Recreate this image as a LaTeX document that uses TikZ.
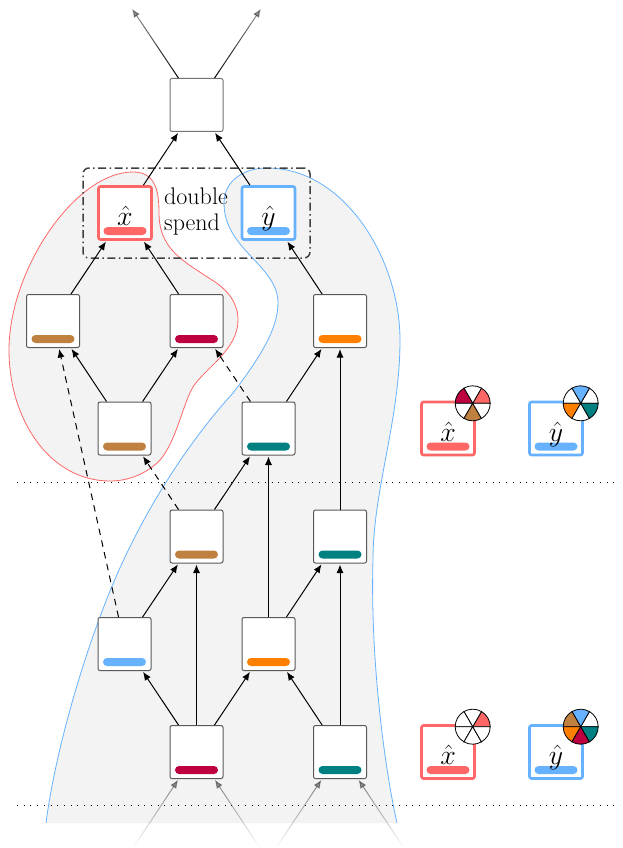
\documentclass[tikz,border=0pt]{standalone}
\usepackage{fontspec}
\usetikzlibrary{arrows.meta,fadings}
\definecolor{cred}{HTML}{FF6666}
\definecolor{cblue}{HTML}{66B2FF}
\definecolor{cteal}{HTML}{008080}
\definecolor{corange}{HTML}{FF8000}
\definecolor{ccrim}{HTML}{BF0040}
\definecolor{cbrown}{HTML}{BF8040}
\definecolor{cfill}{HTML}{F3F3F3}
\tikzfading[name=fadetoptip, top color=transparent!62, bottom color=transparent!0]
\tikzfading[name=fadebottom, top color=transparent!35, bottom color=transparent!100]
\tikzset{
  block/.style={draw=black!65,line width=1pt,rounded corners=2pt,fill=white,minimum size=53pt,inner sep=0pt,outer sep=0.5pt},
  special/.style={line width=2.6pt,rounded corners=2pt,fill=white,minimum size=53pt,inner sep=0pt,outer sep=1.3pt},
  barmark/.style={rounded corners=4pt,minimum width=43pt,minimum height=8pt,inner sep=0pt,draw=none},
  edge/.style={-{Latex[length=8.5pt,width=7pt]},line width=1pt,black,shorten >=1pt},
  dashedge/.style={edge,dash pattern=on 6.5pt off 5.5pt},
  outedge/.style={edge,path fading=fadetoptip},
  inedge/.style={edge,black!75,path fading=fadebottom},
  sep/.style={black,line width=0.9pt,dash pattern=on 1pt off 5.7pt},
  hull/.style={line width=0.8pt},
  mathlabel/.style={anchor=base,inner sep=0pt,font=\Huge,scale=1.12},
  wedge/.style={draw=black,line width=0.8pt}
}
\newcommand{\blockat}[5]{%
  \node[block] (#1) at (#2,#3) {};
  \node[barmark,fill=#4] (#5) at ([yshift=-18pt]#1.center) {};}
\newcommand{\pieat}[8]{% x y then six sector colours from 0 deg counter-clockwise
  \begin{scope}[shift={(#1,#2)},x=1pt,y=1pt]
    \foreach \ang/\col in {0/#3,60/#4,120/#5,180/#6,240/#7,300/#8}{
      \filldraw[wedge,fill=\col] (0,0) -- (\ang:17.5) arc[start angle=\ang,delta angle=60,radius=17.5] -- cycle;
    }
  \end{scope}}
\newcommand{\specialat}[5]{%
  \node[special,draw=#4] (#1) at (#2,#3) {};
  \node[barmark,fill=#4] (#1bar) at ([yshift=-18pt]#1.center) {};
  \node[mathlabel] (#1lab) at ([yshift=-12.5pt]#1.center) {$\hat{#5}$};}
\newcommand{\bluehull}{(46,823)
  .. controls (54,760) and (78,675) .. (100,617)
  .. controls (135,520) and (190,440) .. (233,393)
  .. controls (258,360) and (278,330) .. (278,303)
  .. controls (278,265) and (224,250) .. (224,203)
  .. controls (224,180) and (245,168) .. (267,168)
  .. controls (345,168) and (400,260) .. (400,340)
  .. controls (400,420) and (373,490) .. (373,560)
  .. controls (370,660) and (385,770) .. (397,823)}
\newcommand{\redhull}{(9,350)
  .. controls (9,270) and (75,172) .. (133,172)
  .. controls (155,172) and (159,190) .. (159,213)
  .. controls (159,250) and (185,262) .. (212,280)
  .. controls (228,290) and (238,303) .. (238,320)
  .. controls (238,350) and (205,368) .. (193,387)
  .. controls (183,403) and (175,447) .. (157,463)
  .. controls (145,474) and (128,481) .. (110,481)
  .. controls (50,481) and (9,420) .. (9,350) -- cycle}
\begin{document}
\begin{tikzpicture}[x=1pt,y=-1pt]
\useasboundingbox (0,0) rectangle (622,848);
% regions
\fill[cfill] \bluehull -- cycle;
\fill[cfill] \redhull;
% separators
\coordinate (s1a) at (17,482.5); \coordinate (s1b) at (620,482.5);
\coordinate (s2a) at (17,805.5); \coordinate (s2b) at (620,805.5);
\draw[sep] (s1a) -- (s1b);
\draw[sep] (s2a) -- (s2b);
\draw[hull,cblue] \bluehull;
\draw[hull,cred] \redhull;
% nodes
\node[block,draw=black!55] (top) at (196.5,105) {};
\specialat{xh}{125}{213}{cred}{x}
\specialat{yh}{268.5}{213}{cblue}{y}
\blockat{a1}{53}{321}{cbrown}{a1bar}
\blockat{a2}{196.5}{321}{ccrim}{a2bar}
\blockat{a3}{340}{321}{corange}{a3bar}
\blockat{b1}{124.5}{428.5}{cbrown}{b1bar}
\blockat{b2}{268.5}{428.5}{cteal}{b2bar}
\blockat{c1}{196.5}{536.5}{cbrown}{c1bar}
\blockat{c2}{340}{536.5}{cteal}{c2bar}
\blockat{d1}{124.5}{644}{cblue}{d1bar}
\blockat{d2}{268.5}{644}{corange}{d2bar}
\blockat{e1}{196.5}{752}{ccrim}{e1bar}
\blockat{e2}{340}{752}{cteal}{e2bar}
% double spend box
\node[draw=black!75,line width=1.5pt,rounded corners=6pt,dash pattern=on 8pt off 3.5pt on 1.5pt off 3.5pt,minimum width=227pt,minimum height=90pt,inner sep=0pt] (ds) at (196.5,213) {};
\node[anchor=north west,inner sep=0pt,align=left,font=\fontsize{24}{26.5}\selectfont] (dslab) at (164,187.5) {double\\spend};
% edges
\foreach \s/\t in {e1/d1,e1/d2,e1/c1,e2/d2,e2/c2,d1/c1,d2/c2,d2/b2,c1/b2,c2/a3,b2/a3,b1/a1,b1/a2,a1/xh,a2/xh,a3/yh,xh/top,yh/top}
  \draw[edge] (\s) -- (\t);
\foreach \s/\t in {d1/a1,c1/b1,b2/a2}
  \draw[dashedge] (\s) -- (\t);
% free ends
\coordinate (o1) at (131.5,8); \coordinate (o2) at (261.5,8);
\draw[outedge] (top) -- (o1);
\draw[outedge] (top) -- (o2);
\coordinate (i1) at (133,848); \coordinate (i2) at (260,848);
\coordinate (i3) at (276,848); \coordinate (i4) at (404,848);
\draw[inedge] (i1) -- (e1);
\draw[inedge] (i2) -- (e1);
\draw[inedge] (i3) -- (e2);
\draw[inedge] (i4) -- (e2);
% legend
\specialat{lx1}{448}{428.5}{cred}{x}
\specialat{ly1}{556}{428.5}{cblue}{y}
\specialat{lx2}{448}{752}{cred}{x}
\specialat{ly2}{556}{752}{cblue}{y}
\pieat{472.7}{403.3}{cred}{white}{ccrim}{white}{cbrown}{white}
\pieat{580.7}{403.3}{white}{cblue}{white}{corange}{white}{cteal}
\pieat{472.7}{726.7}{cred}{white}{white}{white}{white}{white}
\pieat{580.7}{726.7}{white}{cblue}{cbrown}{corange}{ccrim}{cteal}
\end{tikzpicture}
\end{document}
